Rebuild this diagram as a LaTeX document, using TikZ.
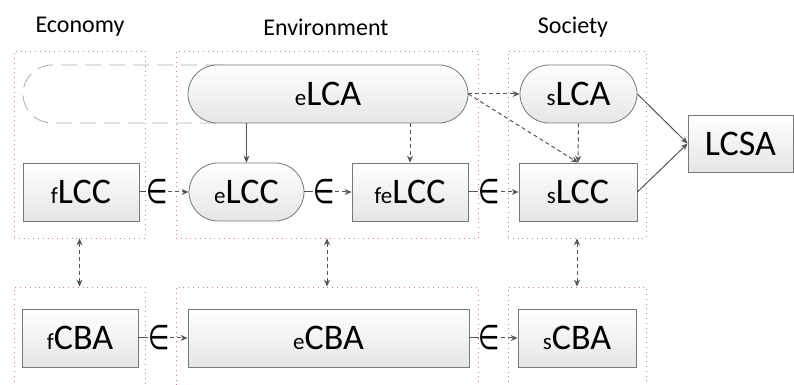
\documentclass[tikz,border=0pt]{standalone}
\usepackage{fontspec}
\usepackage{graphicx}
\setmainfont{Carlito}
\newfontfamily\symfont{DejaVu Sans}
\usetikzlibrary{arrows.meta}
\definecolor{frameRed}{RGB}{196,130,140}
\definecolor{lineGray}{RGB}{85,85,85}
\definecolor{edgeGray}{RGB}{120,120,120}
\newcommand{\pfx}[1]{{\fontsize{11.5}{13}\selectfont #1}}
\newcommand{\isin}{\scalebox{0.72}[1]{∈}}

\begin{document}
\begin{tikzpicture}[x=0.5pt,y=-0.5pt]
      \tikzstyle{pillar}=[draw=frameRed,dotted,line width=0.4pt,inner sep=0pt]
      \tikzstyle{box}=[draw=edgeGray,top color=white,bottom color=gray!20,minimum height=29pt,inner sep=0pt,font=\fontsize{18}{20}\selectfont]
      \tikzstyle{pill}=[box,rounded corners=14.5pt]
      \tikzstyle{head}=[font=\fontsize{12}{14}\selectfont]
      \tikzstyle{link}=[lineGray,line width=0.5pt]
      \tikzstyle{arr}=[link,-{Stealth[length=3.5pt,width=3pt]}]
      \tikzstyle{darr}=[arr,dash pattern=on 2pt off 1.5pt]
      \tikzstyle{dboth}=[darr,{Stealth[length=3.5pt,width=3pt]}-{Stealth[length=3.5pt,width=3pt]}]
      \tikzstyle{member}=[inner sep=0pt,font=\symfont\fontsize{17}{17}\selectfont]
      \clip (0,0) rectangle (794,385);
      % column titles
      \node[head] (hEco) at (80,27) {Economy};
      \node[head] (hEnv) at (326,27) {Environment};
      \node[head] (hSoc) at (573,27) {Society};
      % dotted frames
      \node[pillar,minimum width=65.5pt,minimum height=93.5pt] (ecoTop) at (79.5,144.5) {};
      \node[pillar,minimum width=151pt,minimum height=93.5pt] (envTop) at (327,144.5) {};
      \node[pillar,minimum width=69pt,minimum height=93.5pt] (socTop) at (577,144.5) {};
      \node[pillar,minimum width=65.5pt,minimum height=52.5pt] (ecoBot) at (79.5,339.5) {};
      \node[pillar,minimum width=151pt,minimum height=52.5pt] (envBot) at (327,339.5) {};
      \node[pillar,minimum width=69pt,minimum height=52.5pt] (socBot) at (577,339.5) {};
      % life cycle row
      \node[draw=gray!65,dash pattern=on 8pt off 4pt,rounded corners=14.5pt,minimum width=113.5pt,minimum height=29pt] (ghost) at (136.5,94) {};
      \node[pill,minimum width=140pt] (eLCA) at (328,94) {\pfx{e}LCA};
      \node[pill,minimum width=58.5pt] (sLCA) at (578.5,94) {\pfx{s}LCA};
      \node[box,minimum width=52.5pt,minimum height=28.5pt] (LCSA) at (740.5,143.5) {LCSA};
      % cost row
      \node[box,minimum width=58pt] (fLCC) at (81,192) {\pfx{f}LCC};
      \node[pill,minimum width=57.5pt] (eLCC) at (246.5,192) {\pfx{e}LCC};
      \node[box,minimum width=58pt] (feLCC) at (410,192) {\pfx{fe}LCC};
      \node[box,minimum width=59pt] (sLCC) at (578,192) {\pfx{s}LCC};
      % benefit row
      \node[box,minimum width=58pt] (fCBA) at (80,338) {\pfx{f}CBA};
      \node[box,minimum width=140.5pt] (eCBA) at (328.5,338) {\pfx{e}CBA};
      \node[box,minimum width=59pt] (sCBA) at (577,338) {\pfx{s}CBA};
      % element-of links
      \path (fLCC) -- node[member,pos=0.36] (in1) {\isin} (eLCC);
      \path (eLCC) -- node[member,pos=0.42] (in2) {\isin} (feLCC);
      \path (feLCC) -- node[member,pos=0.42] (in3) {\isin} (sLCC);
      \path (fCBA) -- node[member,pos=0.42] (in4) {\isin} (eCBA);
      \path (eCBA) -- node[member,pos=0.42] (in5) {\isin} (sCBA);
      \draw[link] (fLCC) -- (in1);  \draw[darr] (in1) -- (eLCC);
      \draw[link] (eLCC) -- (in2);  \draw[darr] (in2) -- (feLCC);
      \draw[link] (feLCC) -- (in3); \draw[darr] (in3) -- (sLCC);
      \draw[link] (fCBA) -- (in4);  \draw[darr] (in4) -- (eCBA);
      \draw[link] (eCBA) -- (in5);  \draw[darr] (in5) -- (sCBA);
      % assessment links
      \draw[arr] (eLCA.south -| eLCC) -- (eLCC);
      \draw[darr] (eLCA.south -| feLCC) -- (feLCC);
      \draw[darr] (eLCA.east) -- (sLCA.west);
      \draw[darr] (eLCA.east) -- (sLCC.north);
      \draw[darr] (sLCA) -- (sLCC);
      \draw[arr] (sLCA.east) -- (LCSA.west);
      \draw[arr] (sLCC.east) -- (LCSA.west);
      % cost-benefit links
      \draw[dboth] (ecoTop) -- (ecoBot);
      \draw[dboth] (envTop) -- (envBot);
      \draw[dboth] (socTop) -- (socBot);
\end{tikzpicture}
\end{document}
